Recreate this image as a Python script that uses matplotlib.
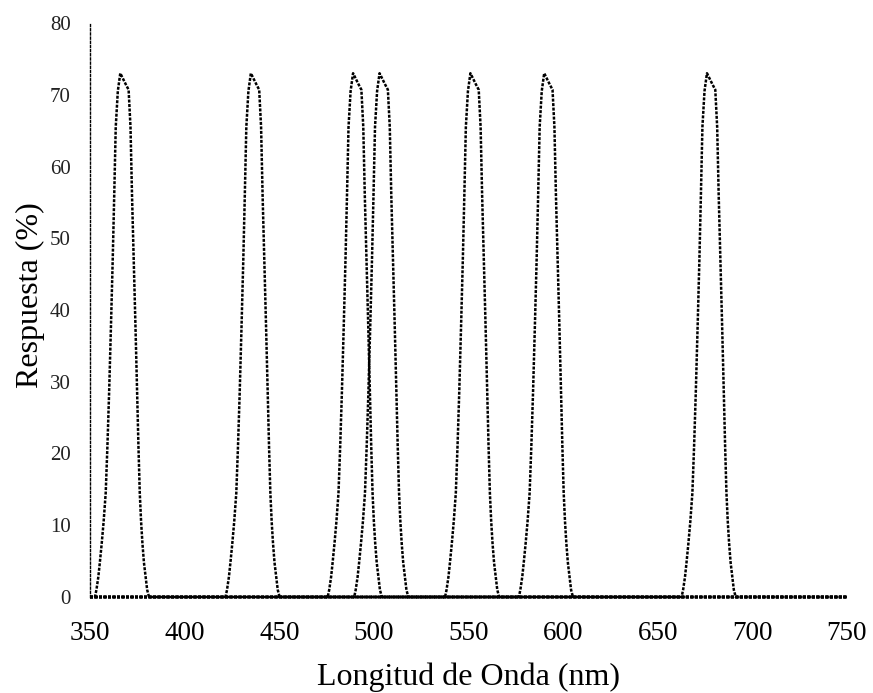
import numpy as np
import matplotlib.pyplot as plt

plt.rcParams['font.family'] = ['Liberation Serif', 'DejaVu Serif']

# posiciones de los picos (nm)
peak_tips = [366, 435, 489, 503, 551, 590, 676]

# forma de cada filtro: desplazamiento respecto al pico (nm) y respuesta (%)
profile_offset = [-13.4, -12.6, -11.6, -10.8, -9.8, -8.8, -7.7, -6.8, -5.9, -4.9,
                  -4.0, -3.2, -2.4, -1.3, 0.0, 1.5, 3.0, 4.4, 5.4, 6.2, 7.1, 8.0,
                  8.9, 9.6, 10.3, 11.0, 11.7, 12.5, 13.4, 14.2, 15.2]
profile_value = [0.0, 1.0, 2.8, 4.8, 7.5, 10.5, 14.5, 21.0, 28.5, 38.0,
                 47.0, 56.0, 65.5, 70.5, 73.0, 72.2, 71.4, 70.7, 65.5, 56.0, 47.0, 38.0,
                 28.5, 21.0, 14.5, 10.5, 7.5, 4.8, 2.8, 1.0, 0.0]

x_range = [350, 750]
x_ticks = [350, 400, 450, 500, 550, 600, 650, 700, 750]
y_ticks = [0, 10, 20, 30, 40, 50, 60, 70, 80]

fig = plt.figure(figsize=(8.73, 6.93), dpi=100)
ax = fig.add_axes([90/873, 1-597/693, (847-90)/873, (597-23)/693])

for tip in peak_tips:
    xs = [x_range[0]] + [tip + o for o in profile_offset] + [x_range[1]]
    ys = [0] + profile_value + [0]
    ax.plot(xs, ys, color='black', lw=1.8, ls=(0, (1.2, 0.6)), clip_on=False)

ax.set_xlim(*x_range)
ax.set_ylim(0, 80)
ax.set_xticks(x_ticks)
ax.set_yticks(y_ticks)
ax.tick_params(axis='x', length=0, pad=17, labelsize=19.5)
ax.tick_params(axis='y', length=0, pad=14, labelsize=15, labelcolor='#222222')

for s in ['top', 'right', 'bottom']:
    ax.spines[s].set_visible(False)
ax.spines['left'].set_linestyle((0, (1.5, 1.5)))
ax.spines['left'].set_linewidth(1.0)

ax.set_xlabel('Longitud de Onda (nm)', fontsize=23, labelpad=12)
ax.set_ylabel('Respuesta (%)', fontsize=23)
ax.yaxis.set_label_coords(-0.06, 0.526)

fig.savefig('out.png', dpi=100)
